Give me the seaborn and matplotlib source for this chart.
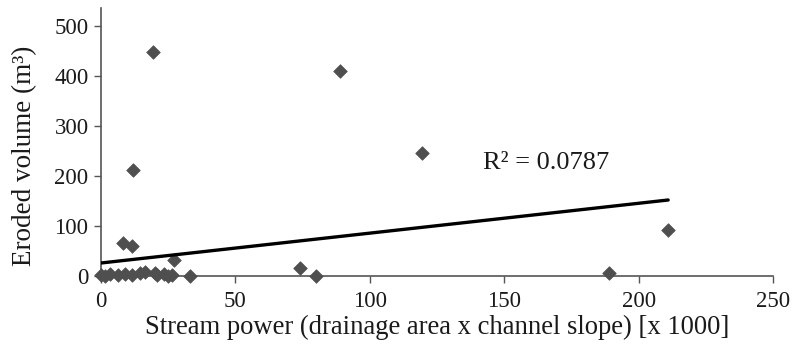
import matplotlib
matplotlib.use("Agg")
import matplotlib.pyplot as plt
import seaborn as sns
import pandas as pd

# Data
stream_power = [0, 1.5, 3.4, 6.3, 9, 11.6, 14.5, 16.4, 20, 21, 23.5, 25, 26.5, 27, 33,
                8, 11.5, 12, 19.4, 74, 80, 88.8, 119.4, 189, 210.8]
eroded_volume = [3, 0, 5, 2, 4, 3, 6, 8, 7, 3, 5, 0, 2, 32, 0,
                 67, 60, 213, 448, 16, 0, 410, 246, 6, 92]
trend_x = [0, 211]
trend_y = [26, 152]
r2_text = "R² = 0.0787"
x_ticks = [0, 50, 100, 150, 200, 250]
y_ticks = [0, 100, 200, 300, 400, 500]

df = pd.DataFrame({"x": stream_power, "y": eroded_volume})

sns.set_theme(style="white")
plt.rcParams["font.family"] = ["Liberation Serif", "DejaVu Serif"]

fig = plt.figure(figsize=(7.97, 3.46), dpi=100)
ax = fig.add_axes([101 / 797, 1 - 276 / 346, (773 - 101) / 797, (276 - 8) / 346])

sns.scatterplot(data=df, x="x", y="y", ax=ax, marker="D", s=48, color="#4f4f4f",
                edgecolor="#4f4f4f", linewidth=0.5, clip_on=False, zorder=3)
sns.lineplot(x=trend_x, y=trend_y, ax=ax, color="black", linewidth=2.4, zorder=4)

ax.set_xlim(0, 250)
ax.set_ylim(0, 536)
ax.set_xticks(x_ticks)
ax.set_yticks(y_ticks)
ax.tick_params(axis="both", which="both", direction="out", length=5, width=1,
               color="#555555", labelsize=16.5, labelcolor="#1a1a1a",
               bottom=True, left=True)
ax.tick_params(axis="x", pad=6)
ax.tick_params(axis="y", pad=4)
for side in ["top", "right"]:
    ax.spines[side].set_visible(False)
for side in ["left", "bottom"]:
    ax.spines[side].set_color("#555555")
    ax.spines[side].set_linewidth(1.2)

ax.set_xlabel("Stream power (drainage area x channel slope) [x 1000]", fontsize=19.2,
              color="#1a1a1a", labelpad=2)
ax.set_ylabel("Eroded volume (m³)", fontsize=19.5, color="#1a1a1a")
ax.yaxis.set_label_coords(-0.095, 0.45)
ax.text(142, 226, r2_text, fontsize=19, color="#1a1a1a", va="center", ha="left")

fig.savefig("out.png", dpi=100)
